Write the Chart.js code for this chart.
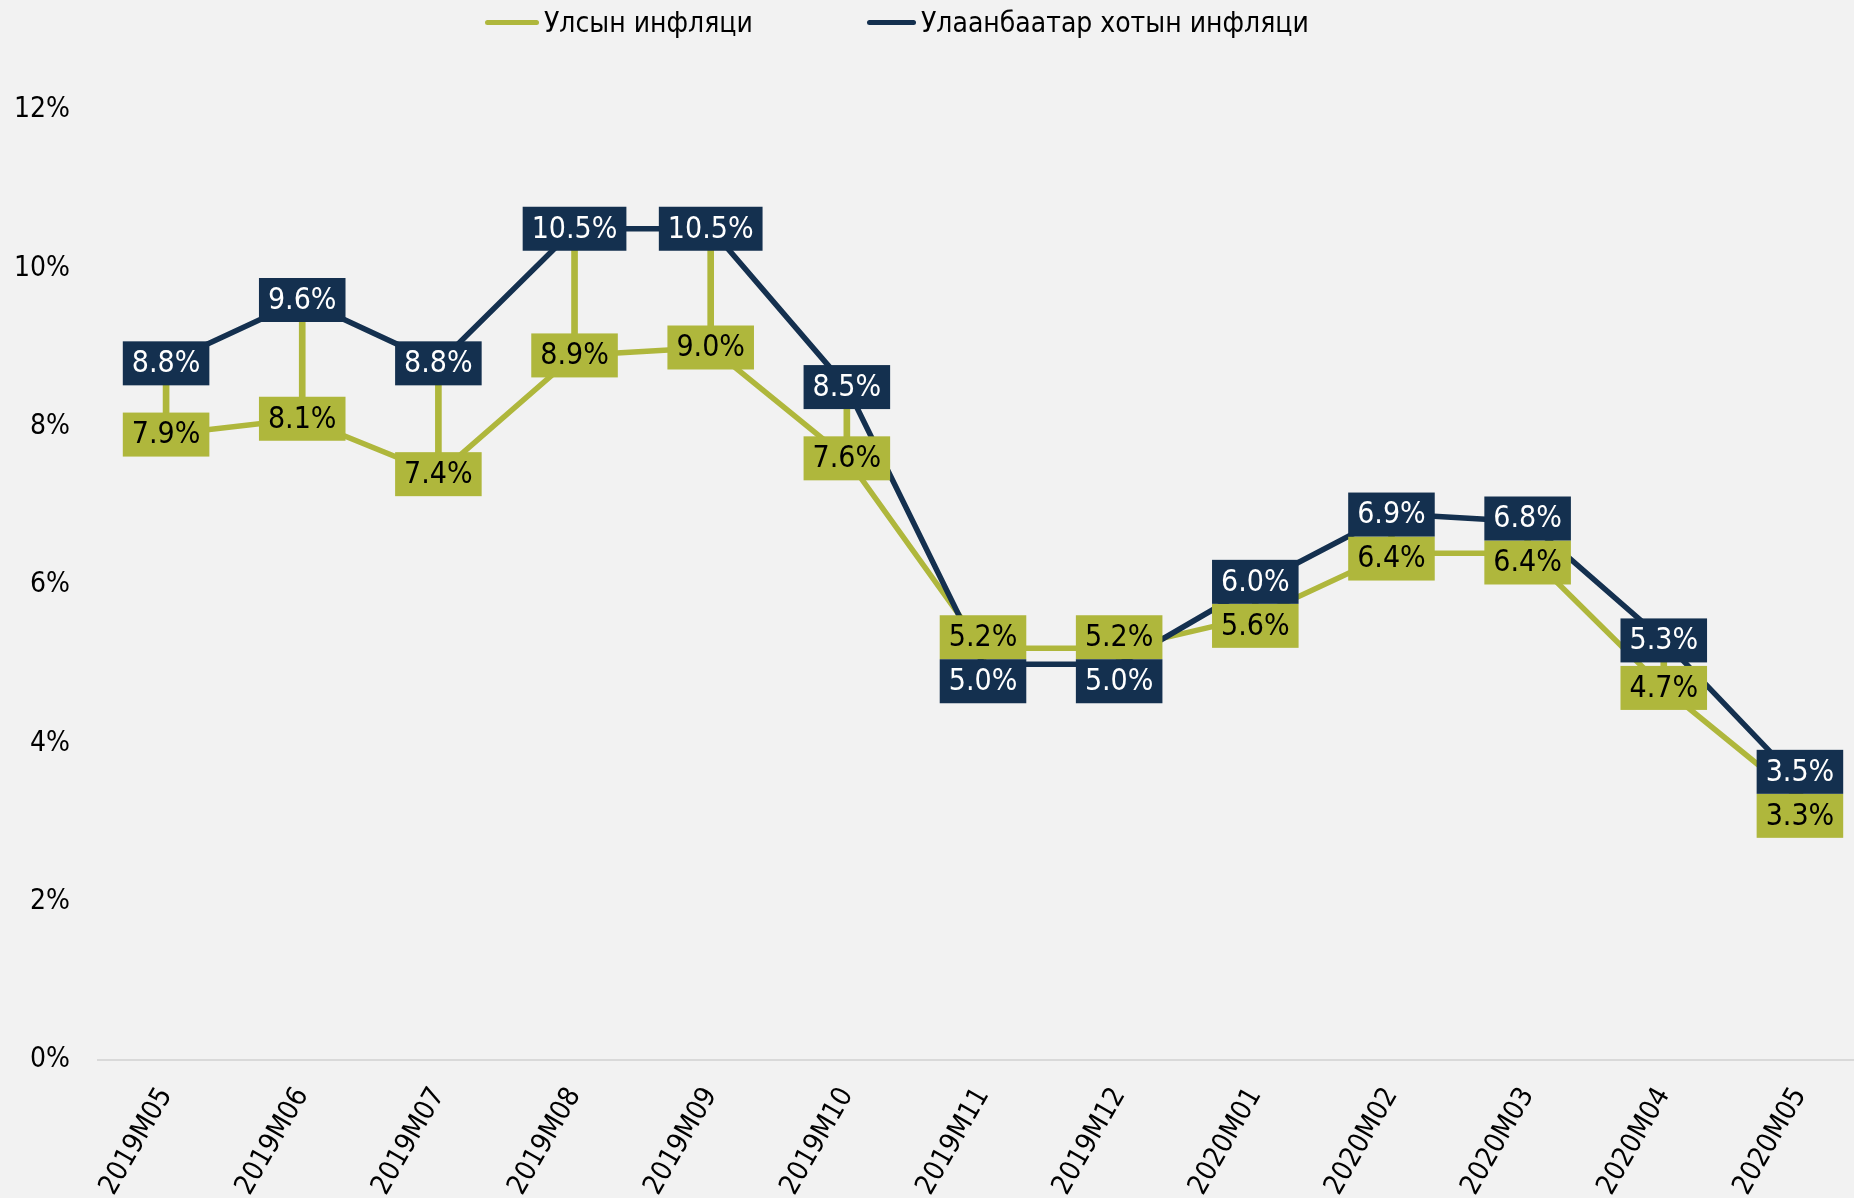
<!DOCTYPE html>
<html>
<head>
<meta charset="utf-8">
<script src="https://cdn.jsdelivr.net/npm/chart.js@4.4.1/dist/chart.umd.min.js"></script>
<style>
  html,body{margin:0;padding:0;background:#f2f2f2;overflow:hidden;}
  #wrap{position:relative;width:1868px;height:1198px;}
  .lg{position:absolute;top:4px;height:36px;display:flex;align-items:center;font-family:"DejaVu Sans Condensed","DejaVu Sans",sans-serif;font-size:28px;color:#000;white-space:nowrap;}
  .lg i{display:inline-block;height:5px;border-radius:3px;margin-right:5px;}
</style>
</head>
<body>
<div id="wrap">
  <canvas id="c"></canvas>
  <div class="lg" style="left:485px"><i style="width:54px;background:#afb73c"></i><span id="lg0"></span></div>
  <div class="lg" style="left:867px"><i style="width:49px;background:#14304f"></i><span id="lg1"></span></div>
</div>
<script>
// Улсын ба Улаанбаатар хотын инфляци, жилийн өөрчлөлт
const months = ["2019M05","2019M06","2019M07","2019M08","2019M09","2019M10","2019M11","2019M12","2020M01","2020M02","2020M03","2020M04","2020M05"];
const national = [7.9,8.1,7.4,8.9,9.0,7.6,5.2,5.2,5.6,6.4,6.4,4.7,3.3];
const ulaanbaatar = [8.8,9.6,8.8,10.5,10.5,8.5,5.0,5.0,6.0,6.9,6.8,5.3,3.5];
const seriesNames = ["Улсын инфляци","Улаанбаатар хотын инфляци"];
const yTicks = [0,2,4,6,8,10,12];

const OLIVE = "#afb73c", NAVY = "#14304f";
const FONT = "'DejaVu Sans Condensed','DejaVu Sans',sans-serif";

document.getElementById("lg0").textContent = seriesNames[0];
document.getElementById("lg1").textContent = seriesNames[1];

// high-low lines between the two series at each month
const hiLo = months.map(function(_,i){return [Math.min(national[i],ulaanbaatar[i]),Math.max(national[i],ulaanbaatar[i])];});

const boxLabels = {
  id:"boxLabels",
  afterDatasetsDraw:function(chart){
    const ctx=chart.ctx, y=chart.scales.y, x=chart.scales.x;
    const boxH=44, pad=9;
    ctx.save();
    ctx.font="30px "+FONT;
    ctx.textAlign="center";
    ctx.textBaseline="middle";
    for(let i=0;i<months.length;i++){
      const px=x.getPixelForValue(i);
      let yo=y.getPixelForValue(national[i]);
      let yn=y.getPixelForValue(ulaanbaatar[i]);
      if(Math.abs(yo-yn)<boxH){
        const mid=(yo+yn)/2+3, up=ulaanbaatar[i]>=national[i];
        yn=mid+(up?-boxH/2:boxH/2);
        yo=mid+(up?boxH/2:-boxH/2);
      }
      const items=[[national[i],yo,OLIVE,"#000"],[ulaanbaatar[i],yn,NAVY,"#fff"]];
      items.forEach(function(it){
        const t=it[0].toFixed(1)+"%";
        const w=ctx.measureText(t).width+pad*2;
        ctx.fillStyle=it[2];
        ctx.fillRect(px-w/2,it[1]-boxH/2,w,boxH);
        ctx.fillStyle=it[3];
        ctx.fillText(t,px,it[1]+1);
      });
    }
    ctx.restore();
  }
};

new Chart(document.getElementById("c"),{
  data:{
    labels:months,
    datasets:[
      {type:"bar",label:"hl",data:hiLo,backgroundColor:OLIVE,barThickness:6,order:3},
      {type:"line",label:seriesNames[0],data:national,borderColor:OLIVE,borderWidth:5.5,pointRadius:0,tension:0,order:2},
      {type:"line",label:seriesNames[1],data:ulaanbaatar,borderColor:NAVY,borderWidth:5.5,pointRadius:0,tension:0,order:1}
    ]
  },
  options:{
    responsive:true,maintainAspectRatio:false,animation:false,
    layout:{padding:{top:110,left:0,right:0,bottom:0}},
    plugins:{legend:{display:false},tooltip:{enabled:false}},
    scales:{
      x:{
        offset:true,
        grid:{display:false},
        border:{display:true,color:"#d9d9d9",width:2},
        ticks:{color:"#000",font:{family:FONT,size:28},minRotation:60,maxRotation:60,padding:14,autoSkip:false},
        afterFit:function(s){s.height=138;}
      },
      y:{
        min:0,max:12,
        grid:{display:false},
        border:{display:false},
        afterBuildTicks:function(s){s.ticks=yTicks.map(function(v){return {value:v};});},
        ticks:{color:"#000",font:{family:FONT,size:28},padding:20,callback:function(v){return v+"%";}},
        afterFit:function(s){s.width=98;}
      }
    }
  },
  plugins:[boxLabels]
});
</script>
</body>
</html>
